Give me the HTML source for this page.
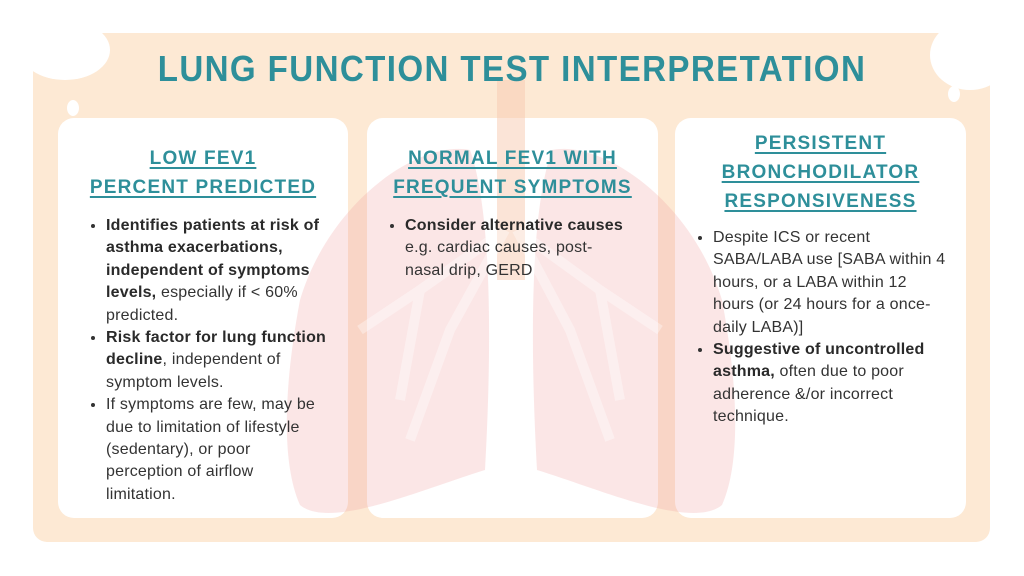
<!DOCTYPE html>
<html><head><meta charset="utf-8"><style>
body{margin:0;width:1024px;height:576px;background:#fff;position:relative;overflow:hidden;font-family:"Liberation Sans",sans-serif}
.bg{position:absolute;left:33px;top:33px;width:957px;height:509px;background:#fde9d4;border-radius:14px}
.card{position:absolute;top:118px;height:400px;background:#fff;border-radius:16px}
h1{position:absolute;left:0;width:1024px;top:48px;margin:0;text-align:center;color:#2e8f9a;font-size:36px;font-weight:bold;letter-spacing:1.5px;transform:scaleX(0.92)}
.h{position:absolute;text-align:center;color:#2e8f9a;font-weight:bold;font-size:19px;line-height:29px;letter-spacing:1.2px;text-decoration:underline;text-decoration-thickness:2px;text-underline-offset:3px}
ul{position:absolute;margin:0;padding-left:22px;font-size:16px;line-height:22.4px;color:#333;white-space:nowrap;letter-spacing:0.2px}
li{margin:0}
b{color:#2a2a2a}
svg{position:absolute;left:0;top:0}
</style></head><body>
<div class="bg"></div>
<div style="position:absolute;left:20px;top:20px;width:90px;height:60px;border-radius:50%;background:#fff"></div>
<div style="position:absolute;left:930px;top:20px;width:80px;height:70px;border-radius:50%;background:#fff"></div>
<div style="position:absolute;left:67px;top:100px;width:12px;height:16px;border-radius:50%;background:#fff"></div>
<div style="position:absolute;left:948px;top:86px;width:12px;height:16px;border-radius:50%;background:#fff"></div>
<div class="card" style="left:58px;width:290px"></div>
<div class="card" style="left:367px;width:291px"></div>
<div class="card" style="left:675px;width:291px"></div>
<svg width="1024" height="576">
<rect x="497" y="80" width="28" height="200" fill="#f7c9b0" opacity="0.5"/>
<path d="M470 150 C420 140 330 200 300 300 C285 380 280 460 300 505 C330 530 420 490 485 470 C490 380 495 220 470 150Z" fill="#f09a9a" opacity="0.25"/>
<path d="M552 150 C602 140 692 200 722 300 C737 380 742 460 722 505 C692 530 602 490 537 470 C532 380 527 220 552 150Z" fill="#f09a9a" opacity="0.25"/>
<path d="M505 230 L420 290 L360 330 M420 290 L400 400 M505 230 L450 330 L410 440 M517 230 L600 290 L660 330 M600 290 L620 400 M517 230 L570 330 L610 440" stroke="#fff" stroke-width="10" fill="none" opacity="0.35"/>
</svg>
<h1>LUNG FUNCTION TEST INTERPRETATION</h1>
<div class="h" style="left:58px;width:290px;top:144px">LOW FEV1 <br>PERCENT PREDICTED</div>
<div class="h" style="left:367px;width:291px;top:144px">NORMAL FEV1 WITH<br>FREQUENT SYMPTOMS</div>
<div class="h" style="left:675px;width:291px;top:129px">PERSISTENT<br>BRONCHODILATOR<br>RESPONSIVENESS</div>
<ul style="left:84px;top:215px">
<li><b>Identifies patients at risk of<br>asthma exacerbations,<br>independent of symptoms<br>levels,</b> especially if &lt; 60%<br>predicted.</li>
<li><b>Risk factor for lung function<br>decline</b>, independent of<br>symptom levels.</li>
<li>If symptoms are few, may be<br>due to limitation of lifestyle<br>(sedentary), or poor<br>perception of airflow<br>limitation.</li>
</ul>
<ul style="left:383px;top:215px">
<li><b>Consider alternative causes</b><br>e.g. cardiac causes, post-<br>nasal drip, GERD</li>
</ul>
<ul style="left:691px;top:227px">
<li>Despite ICS or recent<br>SABA/LABA use [SABA within 4<br>hours, or a LABA within 12<br>hours (or 24 hours for a once-<br>daily LABA)]</li>
<li><b>Suggestive of uncontrolled<br>asthma,</b> often due to poor<br>adherence &amp;/or incorrect<br>technique.</li>
</ul>
</body></html>
